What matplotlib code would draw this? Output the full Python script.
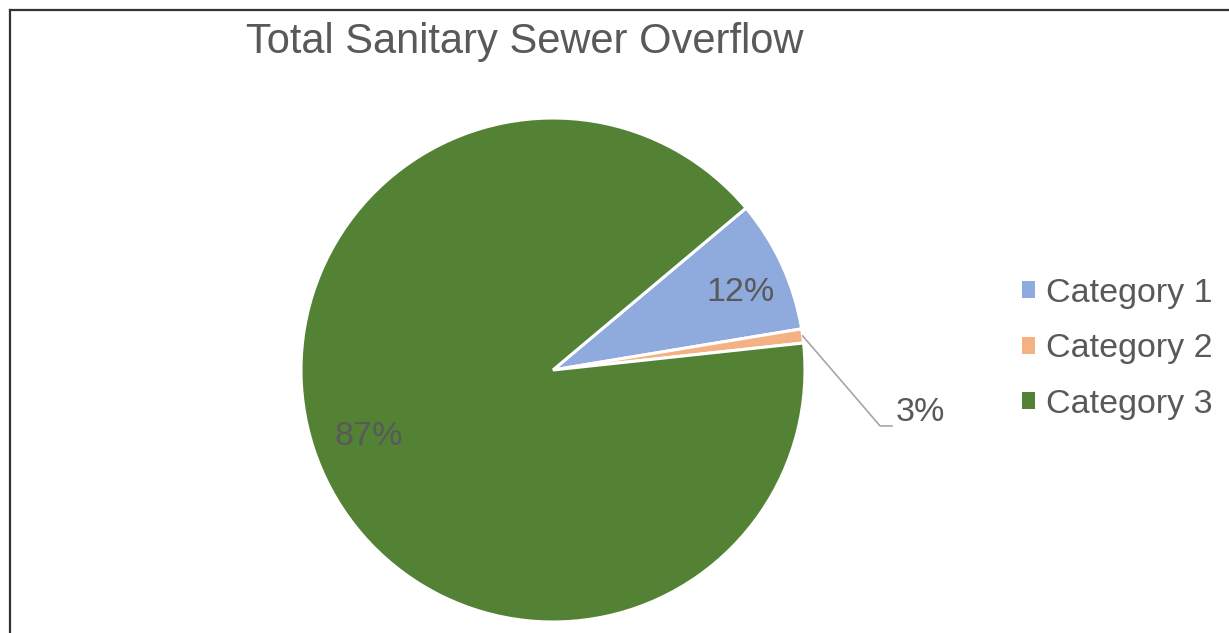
import numpy as np
import matplotlib
matplotlib.use("Agg")
import matplotlib.pyplot as plt
from matplotlib.patches import Patch
from matplotlib.lines import Line2D

plt.rcParams['font.family'] = ['Liberation Sans', 'DejaVu Sans']

# values; label texts are what the chart prints
categories = ["Category 1", "Category 2", "Category 3"]
shares = [8.5, 0.9, 90.6]
label_texts = ["12%", "3%", "87%"]
colors = ["#8FAADC", "#F4B183", "#548235"]
text_gray = "#595959"

W, H = 1229, 633
fig = plt.figure(figsize=(W / 100, H / 100), dpi=100)

# pie axes: centre (553, 370) px, radius 252 px
cx, cy, r = 553, 370, 252
ax = fig.add_axes([(cx - r) / W, (H - cy - r) / H, 2 * r / W, 2 * r / H])
wedges, _ = ax.pie(shares, colors=colors, startangle=40, counterclock=False,
                   wedgeprops=dict(edgecolor="white", linewidth=2.2))
ax.set_xlim(-1, 1)
ax.set_ylim(-1, 1)
ax.set_aspect("equal")

# inside labels
ax.text(0.746, 0.306, label_texts[0], fontsize=24.5, color=text_gray,
        ha="center", va="center")
ax.text(-0.73, -0.262, label_texts[2], fontsize=24.5, color=text_gray,
        ha="center", va="center")

# outside label for the thin slice, with leader line
w = wedges[1]
mid = np.deg2rad((w.theta1 + w.theta2) / 2)
x0, y0 = np.cos(mid), np.sin(mid)
ax.plot([x0, 1.298, 1.345], [y0, -0.222, -0.222], color="#A6A6A6",
        linewidth=1.2, clip_on=False)
ax.text(1.36, -0.17, label_texts[1], fontsize=24.5, color=text_gray,
        ha="left", va="center")

fig.text(525 / W, 1 - 42 / H, "Total Sanitary Sewer Overflow", fontsize=30,
         color=text_gray, ha="center", va="center")

handles = [Patch(facecolor=c, edgecolor="none") for c in colors]
fig.legend(handles, categories, loc="center left",
           bbox_to_anchor=(1008 / W, 1 - 349 / H), frameon=False,
           fontsize=24.5, labelcolor=text_gray, handlelength=0.38,
           handleheight=0.38, handletextpad=0.35, labelspacing=0.72,
           borderpad=0.2, borderaxespad=0.2)

# chart frame (only left and top edges are visible in the crop)
fig.add_artist(Line2D([10 / W, 10 / W], [0, 1 - 10 / H], color="#333333",
                      linewidth=1.6))
fig.add_artist(Line2D([10 / W, 1], [1 - 10 / H, 1 - 10 / H], color="#333333",
                      linewidth=1.6))

fig.savefig("out.png", dpi=100)
